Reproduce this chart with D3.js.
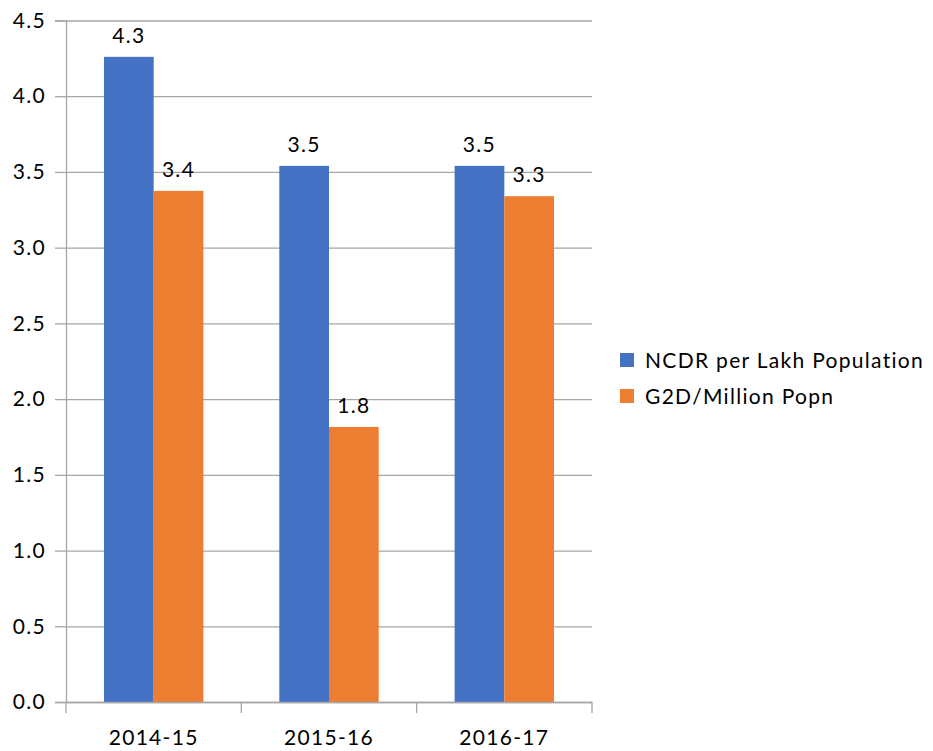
<!DOCTYPE html>
<html>
<head>
<meta charset="utf-8">
<script src="https://cdn.jsdelivr.net/npm/d3@7"></script>
<style>
  body { margin: 0; background: #fff; }
  text { font-family: Lato, "Open Sans", sans-serif; fill: #000; }
</style>
</head>
<body>
<script>
// Global variable
const w = 933;
const h = 751;
const fs = 21;
const ls = 1.3;

// Data
const years = ["2014-15", "2015-16", "2016-17"];
const seriesNames = ["NCDR per Lakh Population", "G2D/Million Popn"];
const ncdr = [4.26, 3.54, 3.54];
const g2d = [3.375, 1.816, 3.34];
const yTicks = [0, 0.5, 1.0, 1.5, 2.0, 2.5, 3.0, 3.5, 4.0, 4.5];
const colors = ["#4472C4", "#ED7D31"];

const dataset = years.map((yr, i) => ({ year: yr, values: [ncdr[i], g2d[i]] }));

const plot = { left: 66, right: 592, top: 20.5, bottom: 702 };

//Create SVG element
let svg = d3.select("body")
            .append("svg")
                .attr("width", w)
                .attr("height", h);

const x = d3.scaleBand()
        .domain(years)
        .range([plot.left, plot.right])
        .padding(0);

const x1 = d3.scaleBand()
        .domain(seriesNames)
        .range([0, x.bandwidth()])
        .paddingInner(0)
        .paddingOuter(0.764);

const y = d3.scaleLinear()
        .domain([0, 4.5])
        .range([plot.bottom, plot.top]);

// Gridlines + y ticks
const yAxis = svg.append("g")
    .attr("class", "y axis")
    .attr("transform", "translate(" + plot.left + ",0)")
    .call(d3.axisLeft(y)
        .tickValues(yTicks)
        .tickSize(11)
        .tickPadding(9)
        .tickFormat(d3.format(".1f")));
yAxis.select(".domain").attr("stroke", "#a6a6a6").attr("stroke-width", 1.3);
yAxis.selectAll(".tick line").attr("stroke", "#a6a6a6").attr("stroke-width", 1.3);
yAxis.selectAll(".tick").append("line")
    .attr("x1", 0)
    .attr("x2", plot.right - plot.left)
    .attr("stroke", "#a6a6a6")
    .attr("stroke-width", 1.3);
yAxis.selectAll(".tick text")
    .attr("font-size", fs)
    .attr("font-family", "Lato, 'Open Sans', sans-serif")
    .attr("letter-spacing", ls)
    .attr("fill", "#000");

// Bars
const groups = svg.selectAll("g.group")
    .data(dataset)
    .enter()
    .append("g")
    .attr("class", "group")
    .attr("transform", (d) => "translate(" + x(d.year) + ",0)");

groups.selectAll("rect")
    .data((d) => d.values.map((v, j) => ({ name: seriesNames[j], value: v, j: j })))
    .enter()
    .append("rect")
    .attr("x", (d) => x1(d.name))
    .attr("width", x1.bandwidth())
    .attr("y", (d) => y(d.value))
    .attr("height", (d) => y(0) - y(d.value))
    .attr("fill", (d) => colors[d.j]);

groups.selectAll("text.label")
    .data((d) => d.values.map((v, j) => ({ name: seriesNames[j], value: v })))
    .enter()
    .append("text")
    .attr("class", "label")
    .attr("x", (d) => x1(d.name) + x1.bandwidth() / 2)
    .attr("y", (d) => y(d.value) - 14)
    .attr("text-anchor", "middle")
    .attr("font-size", fs)
    .attr("letter-spacing", ls)
    .text((d) => d3.format(".1f")(d.value));

// X axis
const xAxis = svg.append("g")
    .attr("class", "x axis")
    .attr("transform", "translate(0," + plot.bottom + ")")
    .call(d3.axisBottom(x).tickSize(0).tickPadding(28));
xAxis.select(".domain").attr("stroke", "#a6a6a6").attr("stroke-width", 1.3);
xAxis.selectAll(".tick text")
    .attr("font-size", fs)
    .attr("font-family", "Lato, 'Open Sans', sans-serif")
    .attr("letter-spacing", ls)
    .attr("fill", "#000");

// boundary ticks between categories
const bounds = years.map((yr) => x(yr)).concat([plot.right]);
xAxis.selectAll("line.bound")
    .data(bounds)
    .enter()
    .append("line")
    .attr("class", "bound")
    .attr("x1", (d) => d)
    .attr("x2", (d) => d)
    .attr("y1", 0)
    .attr("y2", 11)
    .attr("stroke", "#a6a6a6")
    .attr("stroke-width", 1.3);

// Legend
const legend = svg.selectAll("g.legend")
    .data(seriesNames)
    .enter()
    .append("g")
    .attr("class", "legend")
    .attr("transform", (d, i) => "translate(620," + (353 + i * 36) + ")");

legend.append("rect")
    .attr("width", 14)
    .attr("height", 14)
    .attr("fill", (d, i) => colors[i]);

legend.append("text")
    .attr("x", 25)
    .attr("y", 14.5)
    .attr("font-size", fs)
    .attr("letter-spacing", ls)
    .text((d) => d);
</script>
</body>
</html>
